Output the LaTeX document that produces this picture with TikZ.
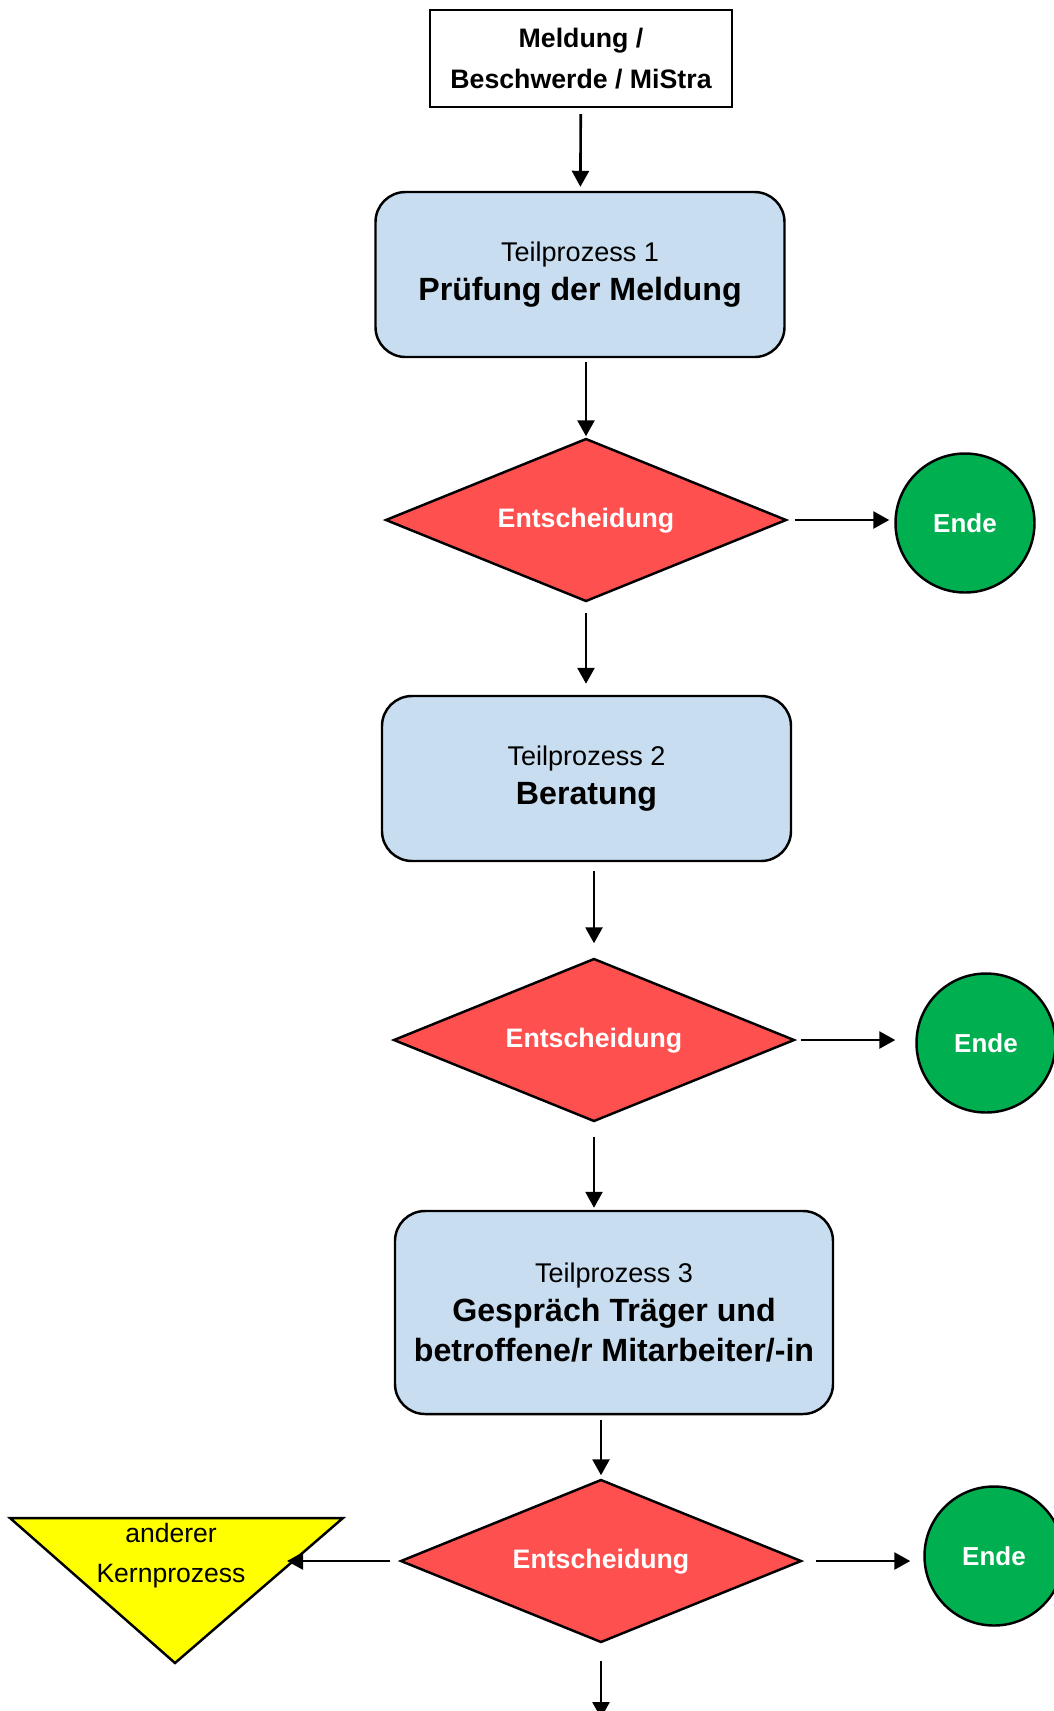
\documentclass[tikz,border=0pt]{standalone}
\usepackage{fontspec}
\setmainfont{Liberation Sans}
\usepackage{tikz}
\usetikzlibrary{arrows.meta,shapes.geometric}

\definecolor{tpblau}{RGB}{200,222,240}
\definecolor{entrot}{RGB}{255,80,80}
\definecolor{endgruen}{RGB}{0,176,80}
\definecolor{kerngelb}{RGB}{255,255,0}

\begin{document}
\begin{tikzpicture}[
    quelle/.style={draw, line width=1.4pt, minimum width=6.04cm, minimum height=1.94cm, align=center, font=\bfseries\fontsize{15.2}{23}\selectfont},
    prozess/.style={draw, line width=1.4pt, rounded corners=0.6cm, fill=tpblau, minimum width=8.18cm, minimum height=3.3cm, align=center, font=\fontsize{15.4}{22}\selectfont},
    entsch/.style={diamond, shape aspect=2.46, draw, line width=1.4pt, fill=entrot, minimum width=8.02cm, minimum height=3.26cm, inner sep=0pt, text height=0.28cm, text depth=0pt, text=white, font=\bfseries\fontsize{15.2}{18}\selectfont},
    ende/.style={circle, draw, line width=1.4pt, fill=endgruen, minimum size=2.78cm, inner sep=0pt, text=white, font=\bfseries\fontsize{14.8}{18}\selectfont},
    arr/.style={-{Triangle[length=0.32cm, width=0.34cm]}, line width=1.5pt}
]
\useasboundingbox (0,0) rectangle (21.06,-34.22);

\node[quelle] (q) at (11.62,-1.17) {Meldung /\\Beschwerde / MiStra};
\node[prozess] (tp1) at (11.6,-5.49) {Teilprozess 1\\{\bfseries\fontsize{18.3}{23}\selectfont Prüfung der Meldung}};
\node[entsch] (d1) at (11.72,-10.4) {Entscheidung};
\node[ende] (e1) at (19.3,-10.46) {Ende};
\node[prozess] (tp2) at (11.73,-15.57) {Teilprozess 2\\{\bfseries\fontsize{18.3}{23}\selectfont Beratung}};
\node[entsch] (d2) at (11.88,-20.8) {Entscheidung};
\node[ende] (e2) at (19.72,-20.86) {Ende};
\node[prozess, minimum width=8.76cm, minimum height=4.06cm] (tp3) at (12.28,-26.25) {Teilprozess 3\\{\bfseries\fontsize{18.3}{23}\selectfont Gespräch Träger und}\\[1pt]{\bfseries\fontsize{18.3}{23}\selectfont betroffene/r Mitarbeiter/-in}};
\node[entsch] (d3) at (12.02,-31.22) {Entscheidung};
\node[ende] (e3) at (19.88,-31.12) {Ende};

% anderer Kernprozess
\coordinate (kpL) at (0.2,-30.36);
\coordinate (kpR) at (6.86,-30.36);
\coordinate (kpS) at (3.5,-33.26);
\draw[line width=1.4pt, fill=kerngelb] (kpL) -- (kpR) -- (kpS) -- cycle;
\node[align=center, font=\fontsize{15.1}{22.7}\selectfont] (kp) at (3.42,-31.11) {anderer\\Kernprozess};
\coordinate (kpein) at (5.74,-31.18);
\coordinate (weiter) at (12.06,-34.36);

\draw[arr, shorten <=0.12cm, shorten >=0.08cm] (q) -- (tp1);
\draw[arr, shorten <=0.08cm, shorten >=0.02cm] (tp1.south -| d1.north) -- (d1.north);
\draw[arr, shorten <=0.14cm, shorten >=0.1cm] (d1.east) -- (d1.east -| e1.west);
\draw[arr, shorten <=0.2cm, shorten >=0.22cm] (d1.south) -- (d1.south |- tp2.north);
\draw[arr, shorten <=0.18cm, shorten >=0.28cm] (tp2.south -| d2.north) -- (d2.north);
\draw[arr, shorten <=0.1cm, shorten >=0.4cm] (d2.east) -- (d2.east -| e2.west);
\draw[arr, shorten <=0.28cm, shorten >=0.04cm] (d2.south) -- (d2.south |- tp3.north);
\draw[arr, shorten <=0.1cm, shorten >=0.06cm] (tp3.south -| d3.north) -- (d3.north);
\draw[arr, shorten <=0.26cm, shorten >=0.26cm] (d3.east) -- (d3.east -| e3.west);
\draw[arr, shorten <=0.18cm] (d3.west) -- (d3.west -| kpein);
\draw[arr, shorten <=0.34cm] (d3.south) -- (d3.south |- weiter);
\end{tikzpicture}
\end{document}
